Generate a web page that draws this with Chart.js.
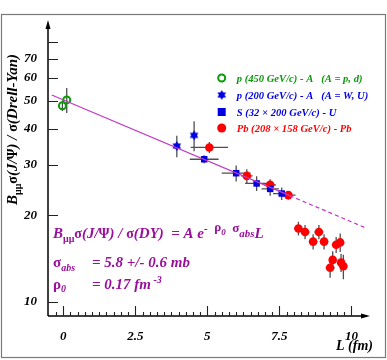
<!DOCTYPE html>
<html>
<head>
<meta charset="utf-8">
<script src="https://cdn.jsdelivr.net/npm/chart.js@4"></script>
<style>
html, body { margin: 0; padding: 0; background: #fff; }
canvas { display: block; }
</style>
</head>
<body>
<canvas id="c" width="387" height="360"></canvas>
<script>
// J/psi over Drell-Yan vs L (fm)
const greenL = [-0.03, 0.12];
const greenV = [48.0, 50.3];
const greenErr = [2.0, 5.0];
const greenXErr = [0, 0];

const starL = [3.94, 4.54];
const starV = [34.8, 37.9];
const starErr = [3.0, 4.5];
const starXErr = [0.1, 0];

const sL = [4.89, 6.0, 6.71, 7.18, 7.58];
const sV = [31.3, 28.0, 25.8, 24.7, 23.8];
const sErr = [1.0, 1.8, 1.5, 1.3, 1.2];
const sXErr = [0.5, 0.5, 0.4, 0.3, 0.3];

const pbL = [5.07, 6.37, 7.18, 7.81, 8.16, 8.39, 8.87, 8.67, 9.05, 9.47, 9.61, 9.35, 9.26, 9.64, 9.72];
const pbV = [34.4, 27.4, 25.5, 23.5, 18.0, 17.5, 17.5, 16.2, 16.2, 15.8, 16.1, 14.0, 13.15, 13.7, 13.3];
const pbErr = [1.5, 1.5, 1.2, 0.8, 1.0, 1.0, 1.0, 1.0, 1.0, 1.0, 1.2, 1.0, 1.0, 1.0, 1.3];
const pbXErr = [0.65, 0.2, 0.2, 0.25, 0.15, 0.15, 0.15, 0.15, 0.15, 0.15, 0.1, 0.1, 0.15, 0.1, 0.1];

// fit: solid up to the Pb range, dashed beyond
const fitL = [-0.4, 7.86, 10.54];
const fitV = [52.3, 23.4, 18.0];

const xTicks = [0, 2.5, 5, 7.5, 10];
const yTicks = [10, 20, 30, 40, 50, 60, 70, 80];

const legendNames = [
  "p (450 GeV/c) - A   (A = p, d)",
  "p (200 GeV/c) - A   (A = W, U)",
  "S (32 \u00d7 200 GeV/c) - U",
  "Pb (208 \u00d7 158 GeV/c) - Pb"
];

const GREEN = "#0a9a0a", BLUE = "#0000e0", RED = "#ff0000", PURPLE = "#9a0f9c";
const SERIF = "'Liberation Serif', 'DejaVu Serif', serif";
const BI = (s) => "italic bold " + s + "px " + SERIF;
const GR = (s) => "bold " + s + "px " + SERIF;

function pts(xs, ys) { return xs.map((x, i) => ({ x: x, y: ys[i] })); }

// six-pointed star marker
function makeStar(r, color) {
  const c = document.createElement("canvas");
  c.width = c.height = r * 2 + 2;
  const g = c.getContext("2d");
  g.fillStyle = color;
  const cx = r + 1, cy = r + 1;
  [-Math.PI / 2, Math.PI / 2].forEach(a0 => {
    g.beginPath();
    for (let k = 0; k < 3; k++) {
      const a = a0 + k * 2 * Math.PI / 3;
      g.lineTo(cx + r * Math.cos(a), cy + r * Math.sin(a));
    }
    g.closePath();
    g.fill();
  });
  return c;
}
const starImg = makeStar(5, BLUE);

function drawRuns(ctx, x, y, runs) {
  runs.forEach(r => {
    ctx.font = r.f;
    ctx.fillText(r.t, x, y + (r.dy || 0));
    x += ctx.measureText(r.t).width;
  });
  return x;
}

const errPlugin = {
  id: "errbars",
  beforeDatasetsDraw(chart) {
    const ctx = chart.ctx, xs = chart.scales.x, ys = chart.scales.y;
    ctx.save();
    ctx.strokeStyle = "#505050";
    ctx.lineWidth = 1.3;
    chart.data.datasets.forEach(ds => {
      if (!ds.yErr) return;
      ds.data.forEach((p, i) => {
        const px = xs.getPixelForValue(p.x), py = ys.getPixelForValue(p.y);
        const e = ds.yErr[i], xe = ds.xErr[i];
        ctx.beginPath();
        ctx.moveTo(px, ys.getPixelForValue(p.y + e));
        ctx.lineTo(px, ys.getPixelForValue(p.y - e));
        if (xe > 0) {
          ctx.moveTo(xs.getPixelForValue(p.x - xe), py);
          ctx.lineTo(xs.getPixelForValue(p.x + xe), py);
        }
        ctx.stroke();
      });
    });
    ctx.restore();
  }
};

const decoPlugin = {
  id: "deco",
  beforeDraw(chart) {
    const ctx = chart.ctx;
    ctx.save();
    ctx.fillStyle = "#fff";
    ctx.fillRect(0, 0, chart.width, chart.height);
    ctx.strokeStyle = "#7a7a7a";
    ctx.lineWidth = 1.2;
    ctx.strokeRect(1.5, 14.5, 384, 343);
    ctx.restore();
  },
  afterDraw(chart) {
    const ctx = chart.ctx, xs = chart.scales.x, ys = chart.scales.y;
    const a = chart.chartArea;
    ctx.save();
    // axes
    ctx.strokeStyle = "#000";
    ctx.fillStyle = "#000";
    ctx.lineWidth = 1.5;
    ctx.beginPath();
    ctx.moveTo(a.left, a.bottom);
    ctx.lineTo(a.left, a.top + 4);
    ctx.moveTo(a.left, a.bottom);
    ctx.lineTo(a.right, a.bottom);
    ctx.stroke();
    ctx.beginPath();
    ctx.moveTo(a.left, a.top - 2);
    ctx.lineTo(a.left - 2.5, a.top + 7);
    ctx.lineTo(a.left + 2.5, a.top + 7);
    ctx.closePath();
    ctx.fill();
    ctx.beginPath();
    ctx.moveTo(a.right + 3, a.bottom);
    ctx.lineTo(a.right - 6, a.bottom - 2.5);
    ctx.lineTo(a.right - 6, a.bottom + 2.5);
    ctx.closePath();
    ctx.fill();
    ctx.lineWidth = 1.1;
    ctx.strokeStyle = "#222";
    ctx.beginPath();
    yTicks.forEach(v => {
      const py = Math.round(ys.getPixelForValue(v)) + 0.5;
      ctx.moveTo(a.left, py);
      ctx.lineTo(a.left + 10, py);
    });
    for (let v = -0.25; v <= 10.001; v += 0.25) {
      const px = Math.round(xs.getPixelForValue(v)) + 0.5;
      const major = Math.abs(v / 2.5 - Math.round(v / 2.5)) < 1e-6;
      ctx.moveTo(px, a.bottom);
      ctx.lineTo(px, a.bottom - (major ? 10 : 4));
    }
    ctx.stroke();

    // axis titles
    ctx.fillStyle = "#000";
    ctx.textBaseline = "alphabetic";
    ctx.font = BI(14);
    ctx.textAlign = "right";
    ctx.fillText("L (fm)", 373, 350);
    ctx.textAlign = "left";
    ctx.save();
    ctx.translate(17, 205);
    ctx.rotate(-Math.PI / 2);
    drawRuns(ctx, 0, 0, [
      { t: "B", f: BI(15) }, { t: "\u03bc\u03bc", f: GR(10), dy: 4 },
      { t: "\u03c3", f: GR(14) }, { t: "(J/", f: BI(15) }, { t: "\u03a8", f: GR(14) },
      { t: ") / ", f: BI(15) }, { t: "\u03c3", f: GR(14) }, { t: "(Drell-Yan)", f: BI(15) }
    ]);
    ctx.restore();

    // formula box
    ctx.fillStyle = PURPLE;
    drawRuns(ctx, 53, 238, [
      { t: "B", f: BI(15) }, { t: "\u03bc\u03bc", f: GR(10), dy: 4 },
      { t: "\u03c3", f: GR(14) }, { t: "(J/", f: BI(15) }, { t: "\u03a8", f: GR(14) },
      { t: ") / ", f: BI(15) }, { t: "\u03c3", f: GR(14) }, { t: "(DY)  = A e", f: BI(15) },
      { t: "-", f: BI(11), dy: -6 }, { t: "  \u03c1", f: GR(13), dy: -7 }, { t: "0", f: BI(9), dy: -3 },
      { t: "  \u03c3", f: GR(13), dy: -6 }, { t: "abs", f: BI(11), dy: -1 }, { t: "L", f: BI(15) }
    ]);
    drawRuns(ctx, 53, 267, [{ t: "\u03c3", f: GR(15) }, { t: "abs", f: BI(10), dy: 4 }]);
    drawRuns(ctx, 92, 267, [{ t: "= 5.8 +/- 0.6 mb", f: BI(15) }]);
    drawRuns(ctx, 53, 289, [{ t: "\u03c1", f: GR(15) }, { t: "0", f: BI(10), dy: 3 }]);
    drawRuns(ctx, 92, 289, [{ t: "= 0.17 fm", f: BI(15) }, { t: " -3", f: BI(10), dy: -6 }]);

    // legend
    const lx = 221.7, tx = 236.7, ly = [78, 95, 112, 128];
    const tcol = [GREEN, BLUE, BLUE, RED];
    ctx.textBaseline = "middle";
    ly.forEach((y, i) => {
      if (i === 0) {
        ctx.strokeStyle = GREEN; ctx.lineWidth = 2;
        ctx.beginPath(); ctx.arc(lx, y, 3.5, 0, Math.PI * 2); ctx.stroke();
      } else if (i === 1) {
        ctx.drawImage(starImg, lx - starImg.width / 2, y - starImg.height / 2);
      } else if (i === 2) {
        ctx.fillStyle = BLUE; ctx.fillRect(lx - 4, y - 4, 8, 8);
      } else {
        ctx.fillStyle = RED;
        ctx.beginPath(); ctx.arc(lx, y, 4.5, 0, Math.PI * 2); ctx.fill();
      }
      ctx.fillStyle = tcol[i];
      ctx.font = BI(10.6);
      ctx.fillText(legendNames[i], tx, y + 1);
    });
    ctx.restore();
  }
};

const tickFont = { family: SERIF, size: 13, style: "italic", weight: "bold" };

new Chart(document.getElementById("c"), {
  type: "scatter",
  data: {
    datasets: [
      {
        label: "fit", type: "line", data: pts(fitL, fitV),
        borderColor: "#c23ac6", borderWidth: 1.2, pointRadius: 0, fill: false,
        segment: { borderDash: c => c.p0DataIndex === 1 ? [4, 3] : undefined }
      },
      {
        label: legendNames[0], data: pts(greenL, greenV), yErr: greenErr, xErr: greenXErr,
        pointStyle: "circle", pointRadius: 3.5, borderColor: GREEN, borderWidth: 2,
        backgroundColor: "rgba(0,0,0,0)"
      },
      {
        label: legendNames[1], data: pts(starL, starV), yErr: starErr, xErr: starXErr,
        pointStyle: starImg
      },
      {
        label: legendNames[2], data: pts(sL, sV), yErr: sErr, xErr: sXErr,
        pointStyle: "rect", pointRadius: 4.6, backgroundColor: BLUE, borderColor: BLUE, borderWidth: 0
      },
      {
        label: legendNames[3], data: pts(pbL, pbV), yErr: pbErr, xErr: pbXErr,
        pointStyle: "circle", pointRadius: 4.3, backgroundColor: RED, borderColor: RED, borderWidth: 0
      }
    ]
  },
  options: {
    responsive: false,
    animation: false,
    devicePixelRatio: 1,
    layout: { padding: { left: 0, top: 22, right: 20, bottom: 0 } },
    plugins: { legend: { display: false }, tooltip: { enabled: false } },
    scales: {
      x: {
        type: "linear", min: -0.53, max: 10.54,
        grid: { display: false }, border: { display: false },
        afterBuildTicks: s => { s.ticks = xTicks.map(v => ({ value: v })); },
        afterFit: s => { s.height = 44; },
        ticks: { autoSkip: false, maxRotation: 0, padding: 5, color: "#000", font: tickFont,
          callback: v => String(v) }
      },
      y: {
        type: "logarithmic", min: 8.94, max: 93.8,
        grid: { display: false }, border: { display: false },
        afterBuildTicks: s => { s.ticks = yTicks.map(v => ({ value: v })); },
        afterFit: s => { s.width = 48; },
        ticks: { autoSkip: false, padding: 3, color: "#000", font: tickFont,
          callback: v => v === 80 ? "" : String(v) }
      }
    }
  },
  plugins: [errPlugin, decoPlugin]
});
</script>
</body>
</html>
